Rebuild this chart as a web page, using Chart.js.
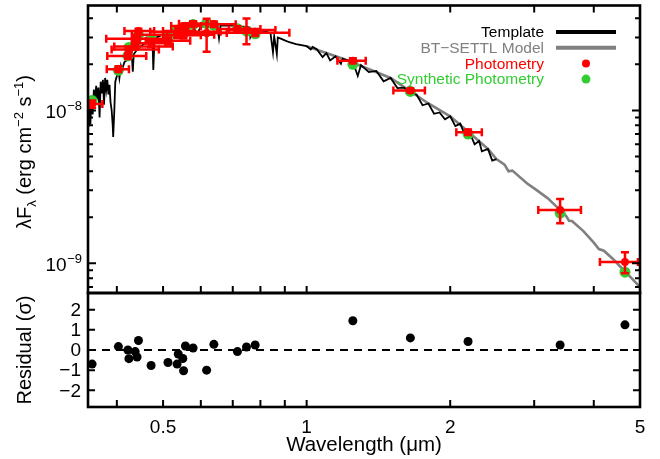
<!DOCTYPE html>
<html>
<head>
<meta charset="utf-8">
<script src="https://cdn.jsdelivr.net/npm/chart.js@4.4.1/dist/chart.umd.min.js"></script>
<style>
  html, body { margin: 0; padding: 0; background: #fff; }
  #wrap { position: relative; width: 660px; height: 459px; }
  #wrap canvas { position: absolute; left: 0; top: 0; }
</style>
</head>
<body>
<div id="wrap">
  <canvas id="sedChart" width="660" height="459"></canvas>
  <canvas id="residChart" width="660" height="459"></canvas>
</div>
<script>
Chart.defaults.animation = false;

const FONT = '"Liberation Sans", Arial, Helvetica, sans-serif';
const RED = '#ff0000';
const GREEN = '#33cc33';
const GRAY = '#808080';
const UNIT = 1e-8; // fluxes below are in units of 1e-8 erg cm^-2 s^-1

// --- Axis limits ---
const xMin = 0.348, xMax = 5.0;
const yMin = 6.4e-10, yMax = 4.85e-8;
const rMin = -2.83, rMax = 2.83;

// --- Template spectrum (black) ---
const templateWave = [0.348,0.349,0.350,0.352,0.354,0.356,0.358,0.360,0.362,0.364,
  0.366,0.368,0.370,0.372,0.374,0.376,0.378,0.380,0.382,0.384,
  0.386,0.388,0.390,0.392,0.393,0.395,0.397,0.400,0.403,0.405,
  0.408,0.410,0.415,0.420,0.425,0.430,0.432,0.434,0.440,0.450,
  0.460,0.470,0.475,0.477,0.480,0.490,0.500,0.517,0.52,0.54,0.56,
  0.58,0.589,0.60,0.62,0.64,0.65,0.655,0.66,0.68,0.70,0.72,
  0.74,0.76,0.762,0.78,0.80,0.82,0.84,0.850,0.855,0.866,0.87,
  0.88,0.90,0.92,0.95,1.00,1.02,1.03,1.05,1.08,1.10,1.12,1.15,1.18,1.19,1.20,
  1.25,1.28,1.30,1.35,1.40,1.45,1.50,1.55,1.60,1.65,1.70,1.75,1.80,1.85,1.90,1.95,
  2.00,2.05,2.10,2.15,2.20,2.25,2.30,2.33,2.40,2.45,2.50];
const templateFlux = [1.01,0.78,1.18,0.81,1.25,0.94,1.37,1.09,1.45,1.18,
  1.41,0.90,1.54,1.29,1.585,1.09,1.63,1.37,1.585,1.27,
  1.47,1.13,1.01,0.81,0.67,0.97,1.54,1.68,1.84,1.63,
  1.95,1.84,2.07,2.13,2.26,2.30,1.79,2.33,2.47,2.63,
  2.79,2.87,2.96,1.84,2.96,3.05,3.14,2.95,3.23,3.33,3.43,
  3.48,3.15,3.53,3.53,3.59,3.53,2.96,3.59,3.59,3.59,3.53,
  3.53,3.48,3.00,3.43,3.33,3.28,3.19,2.40,3.05,2.33,3.00,
  2.96,2.87,2.79,2.71,2.63,2.50,2.60,2.51,2.23,2.37,2.12,2.26,2.02,2.18,2.16,
  2.07,1.68,1.98,1.78,1.81,1.55,1.63,1.40,1.41,1.30,1.27,1.08,1.11,0.95,0.97,0.875,
  0.915,0.79,0.82,0.68,0.71,0.60,0.63,0.54,0.56,0.47,0.48];

// --- BT-SETTL model (gray) ---
const modelWave = [1.00,1.20,1.50,1.80,2.00,2.20,2.40,2.50,2.60,2.65,2.70,2.90,3.00,
  3.20,3.30,3.40,3.50,3.55,3.60,3.80,4.00,4.10,4.20,4.40,4.60,4.80,5.00];
const modelFlux = [2.63,2.16,1.63,1.11,0.915,0.71,0.56,0.48,0.442,0.40,0.404,0.333,0.309,
  0.267,0.244,0.223,0.204,0.190,0.189,0.163,0.1366,0.124,0.121,0.106,0.0915,0.080,0.070];

// --- Photometry (red) ---
const photWave = [0.355,0.403,0.422,0.424,0.437,0.441,0.444,0.472,0.512,0.535,
  0.538,0.550,0.552,0.557,0.578,0.617,0.639,0.716,0.748,0.780,1.25,1.65,2.18,3.40,4.65];
const photFlux = [1.10,1.86,2.27,2.50,2.62,2.94,3.30,2.75,2.85,3.12,
  3.30,3.27,3.10,3.56,3.68,3.20,3.66,3.40,3.35,3.22,2.11,1.35,0.72,0.223,0.102];
const photErr = [0.06,0.08,0.10,0.10,0.12,0.12,0.12,0.15,0.15,0.15,
  0.15,0.15,0.15,0.15,0.15,0.78,0.15,0.15,0.64,0.15,0.08,0.04,0.03,0.04,0.016];
const photWaveLo = [0.350,0.381,0.382,0.390,0.395,0.380,0.415,0.430,0.460,0.430,
  0.500,0.470,0.510,0.520,0.540,0.560,0.580,0.650,0.687,0.620,1.16,1.52,2.06,3.06,4.12];
const photWaveHi = [0.373,0.424,0.461,0.490,0.524,0.500,0.479,0.520,0.570,0.640,
  0.580,0.660,0.600,0.600,0.620,0.680,0.710,0.800,0.860,0.920,1.33,1.77,2.33,3.76,4.95];

// --- Synthetic photometry (green) ---
const synthFlux = [1.16,1.83,2.27,2.58,2.65,3.00,3.12,2.92,3.02,3.33,
  3.36,3.40,3.40,3.50,3.65,3.70,3.60,3.42,3.30,3.17,2.00,1.33,0.70,0.213,0.0875];

// --- Residuals (sigma) ---
const residVal = [-0.70,0.17,0.00,-0.43,-0.08,-0.35,0.47,-0.77,-0.62,-0.70,
  -0.20,-0.42,-1.03,0.20,0.10,-1.00,0.28,-0.08,0.15,0.25,1.45,0.60,0.42,0.25,1.25];

// --- Ticks ---
const xTickValues = [0.5, 1, 2, 5];
const xTickLabels = ['0.5', '1', '2', '5'];
const xMinorTicks = [0.4, 0.6, 0.7, 0.8, 0.9, 3, 4];
const yMajorTicks = [1e-9, 1e-8];
const yMajorExp = ['\u22129', '\u22128'];
const yMinorTicks = [7e-10, 8e-10, 9e-10, 2e-9, 3e-9, 4e-9, 5e-9, 6e-9, 7e-9, 8e-9, 9e-9, 2e-8, 3e-8, 4e-8];
const rTickValues = [-2, -1, 0, 1, 2];
const rTickLabels = ['\u22122', '\u22121', '0', '1', '2'];

// --- Legend ---
const legendLabels = ['Template', 'BT\u2212SETTL Model', 'Photometry', 'Synthetic Photometry'];
const legendColors = ['#000000', GRAY, RED, GREEN];

function xy(waves, fluxes) {
  return waves.map((w, i) => ({ x: w, y: fluxes[i] * UNIT }));
}

// --- Drawing helpers ---
function drawErrorBars(chart) {
  const { ctx, scales: { x, y } } = chart;
  ctx.save();
  ctx.strokeStyle = RED;
  ctx.lineWidth = 2.5;
  photWave.forEach((w, i) => {
    const px = x.getPixelForValue(w);
    const py = y.getPixelForValue(photFlux[i] * UNIT);
    const x0 = x.getPixelForValue(photWaveLo[i]);
    const x1 = x.getPixelForValue(photWaveHi[i]);
    const y0 = y.getPixelForValue((photFlux[i] - photErr[i]) * UNIT);
    const y1 = y.getPixelForValue((photFlux[i] + photErr[i]) * UNIT);
    ctx.beginPath();
    ctx.moveTo(x0, py); ctx.lineTo(x1, py);
    ctx.moveTo(x0, py - 4); ctx.lineTo(x0, py + 4);
    ctx.moveTo(x1, py - 4); ctx.lineTo(x1, py + 4);
    ctx.moveTo(px, y0); ctx.lineTo(px, y1);
    ctx.moveTo(px - 4, y0); ctx.lineTo(px + 4, y0);
    ctx.moveTo(px - 4, y1); ctx.lineTo(px + 4, y1);
    ctx.stroke();
  });
  ctx.restore();
}

function drawFrame(chart, yTicks, withTop) {
  const { ctx, chartArea: a, scales: { x, y } } = chart;
  ctx.save();
  ctx.strokeStyle = '#000';
  ctx.lineWidth = 2;
  ctx.beginPath();
  xTickValues.concat(xMinorTicks).forEach(v => {
    const px = x.getPixelForValue(v);
    ctx.moveTo(px, a.bottom); ctx.lineTo(px, a.bottom - 7);
    if (withTop) { ctx.moveTo(px, a.top); ctx.lineTo(px, a.top + 7); }
  });
  yTicks.forEach(t => {
    const py = y.getPixelForValue(t.v);
    ctx.moveTo(a.left, py); ctx.lineTo(a.left + t.len, py);
    ctx.moveTo(a.right, py); ctx.lineTo(a.right - t.len, py);
  });
  ctx.stroke();
  ctx.lineWidth = 2.6;
  ctx.strokeRect(a.left, a.top, a.right - a.left, a.bottom - a.top);
  ctx.restore();
}

function drawVerticalText(ctx, cx, cy, parts) {
  ctx.save();
  ctx.translate(cx, cy);
  ctx.rotate(-Math.PI / 2);
  let total = 0;
  parts.forEach(p => {
    ctx.font = p.size + 'px ' + FONT;
    p.w = ctx.measureText(p.t).width;
    total += p.w;
  });
  let pos = -total / 2;
  ctx.fillStyle = '#000';
  ctx.textAlign = 'left';
  ctx.textBaseline = 'alphabetic';
  parts.forEach(p => {
    ctx.font = p.size + 'px ' + FONT;
    ctx.fillText(p.t, pos, p.dy);
    pos += p.w;
  });
  ctx.restore();
}

function drawSedLabels(chart) {
  const { ctx, scales: { y } } = chart;
  ctx.save();
  ctx.fillStyle = '#000';
  ctx.textAlign = 'right';
  ctx.textBaseline = 'alphabetic';
  yMajorTicks.forEach((v, i) => {
    const py = y.getPixelForValue(v);
    ctx.font = '13px ' + FONT;
    const w = ctx.measureText(yMajorExp[i]).width;
    ctx.fillText(yMajorExp[i], 82, py - 0.5);
    ctx.font = '19px ' + FONT;
    ctx.fillText('10', 82 - w - 0.5, py + 7.5);
  });
  ctx.restore();
  drawVerticalText(ctx, 31, 152, [
    { t: '\u03bbF', size: 20, dy: 0 },
    { t: '\u03bb', size: 13, dy: 5 },
    { t: ' (erg cm', size: 20, dy: 0 },
    { t: '\u22122', size: 13, dy: -8 },
    { t: ' s', size: 20, dy: 0 },
    { t: '\u22121', size: 13, dy: -8 },
    { t: ')', size: 20, dy: 0 }
  ]);
}

function drawLegend(chart) {
  const ctx = chart.ctx;
  ctx.save();
  ctx.font = '15.5px ' + FONT;
  ctx.textAlign = 'right';
  ctx.textBaseline = 'middle';
  legendLabels.forEach((t, i) => {
    ctx.fillStyle = legendColors[i];
    ctx.fillText(t, 544, 33 + i * 15.7);
  });
  ctx.lineWidth = 4;
  ctx.strokeStyle = '#000';
  ctx.beginPath(); ctx.moveTo(556, 32); ctx.lineTo(616, 32); ctx.stroke();
  ctx.strokeStyle = GRAY;
  ctx.beginPath(); ctx.moveTo(556, 47.7); ctx.lineTo(616, 47.7); ctx.stroke();
  ctx.fillStyle = RED;
  ctx.beginPath(); ctx.arc(586, 63.4, 4, 0, Math.PI * 2); ctx.fill();
  ctx.fillStyle = GREEN;
  ctx.beginPath(); ctx.arc(586, 79.1, 4.5, 0, Math.PI * 2); ctx.fill();
  ctx.restore();
}

function drawResidLabels(chart) {
  const { ctx, chartArea: a, scales: { x, y } } = chart;
  ctx.save();
  ctx.fillStyle = '#000';
  ctx.font = '19px ' + FONT;
  ctx.textAlign = 'right';
  ctx.textBaseline = 'middle';
  rTickValues.forEach((v, i) => {
    ctx.fillText(rTickLabels[i], 81, y.getPixelForValue(v) + 1);
  });
  ctx.textAlign = 'center';
  ctx.textBaseline = 'alphabetic';
  xTickValues.forEach((v, i) => {
    ctx.fillText(xTickLabels[i], x.getPixelForValue(v), a.bottom + 26);
  });
  ctx.font = '20.5px ' + FONT;
  ctx.fillText('Wavelength (\u03bcm)', (a.left + a.right) / 2, 451);
  ctx.restore();
  drawVerticalText(ctx, 31, 350, [{ t: 'Residual (\u03c3)', size: 20, dy: 0 }]);
}

const sedDecor = {
  id: 'sedDecor',
  afterDatasetsDraw(chart) { drawErrorBars(chart); },
  afterDraw(chart) {
    const ticks = yMajorTicks.map(v => ({ v, len: 8 }))
      .concat(yMinorTicks.map(v => ({ v, len: 5 })));
    drawFrame(chart, ticks, true);
    drawSedLabels(chart);
    drawLegend(chart);
  }
};

const residDecor = {
  id: 'residDecor',
  afterDraw(chart) {
    drawFrame(chart, rTickValues.map(v => ({ v, len: 7 })), false);
    drawResidLabels(chart);
  }
};

// --- SED panel ---
new Chart(document.getElementById('sedChart'), {
  type: 'scatter',
  data: {
    datasets: [
      { label: 'Photometry', data: xy(photWave, photFlux), backgroundColor: RED,
        borderWidth: 0, pointRadius: 4 },
      { label: 'Synthetic Photometry', data: xy(photWave, synthFlux), backgroundColor: GREEN,
        borderWidth: 0, pointRadius: 5.5 },
      { label: 'Template', data: xy(templateWave, templateFlux), showLine: true,
        borderColor: '#000', borderWidth: 1.8, pointRadius: 0 },
      { label: 'BT-SETTL Model', data: xy(modelWave, modelFlux), showLine: true,
        borderColor: GRAY, borderWidth: 2.6, pointRadius: 0 }
    ]
  },
  options: {
    responsive: false,
    events: [],
    layout: { padding: { left: 88, right: 20, top: 5, bottom: 166 } },
    scales: {
      x: { type: 'logarithmic', bounds: 'data', min: xMin, max: xMax, display: false },
      y: { type: 'logarithmic', bounds: 'data', min: yMin, max: yMax, display: false }
    },
    plugins: { legend: { display: false }, tooltip: { enabled: false } }
  },
  plugins: [sedDecor]
});

// --- Residual panel ---
new Chart(document.getElementById('residChart'), {
  type: 'scatter',
  data: {
    datasets: [
      { label: 'Residual', data: photWave.map((w, i) => ({ x: w, y: residVal[i] })),
        backgroundColor: '#000', borderWidth: 0, pointRadius: 4.5 },
      { label: 'Zero', data: [{ x: xMin, y: 0 }, { x: xMax, y: 0 }], showLine: true,
        borderColor: '#000', borderWidth: 2, borderDash: [8, 6], pointRadius: 0 }
    ]
  },
  options: {
    responsive: false,
    events: [],
    layout: { padding: { left: 88, right: 20, top: 293, bottom: 52 } },
    scales: {
      x: { type: 'logarithmic', bounds: 'data', min: xMin, max: xMax, display: false },
      y: { type: 'linear', bounds: 'data', min: rMin, max: rMax, display: false }
    },
    plugins: { legend: { display: false }, tooltip: { enabled: false } }
  },
  plugins: [residDecor]
});
</script>
</body>
</html>
